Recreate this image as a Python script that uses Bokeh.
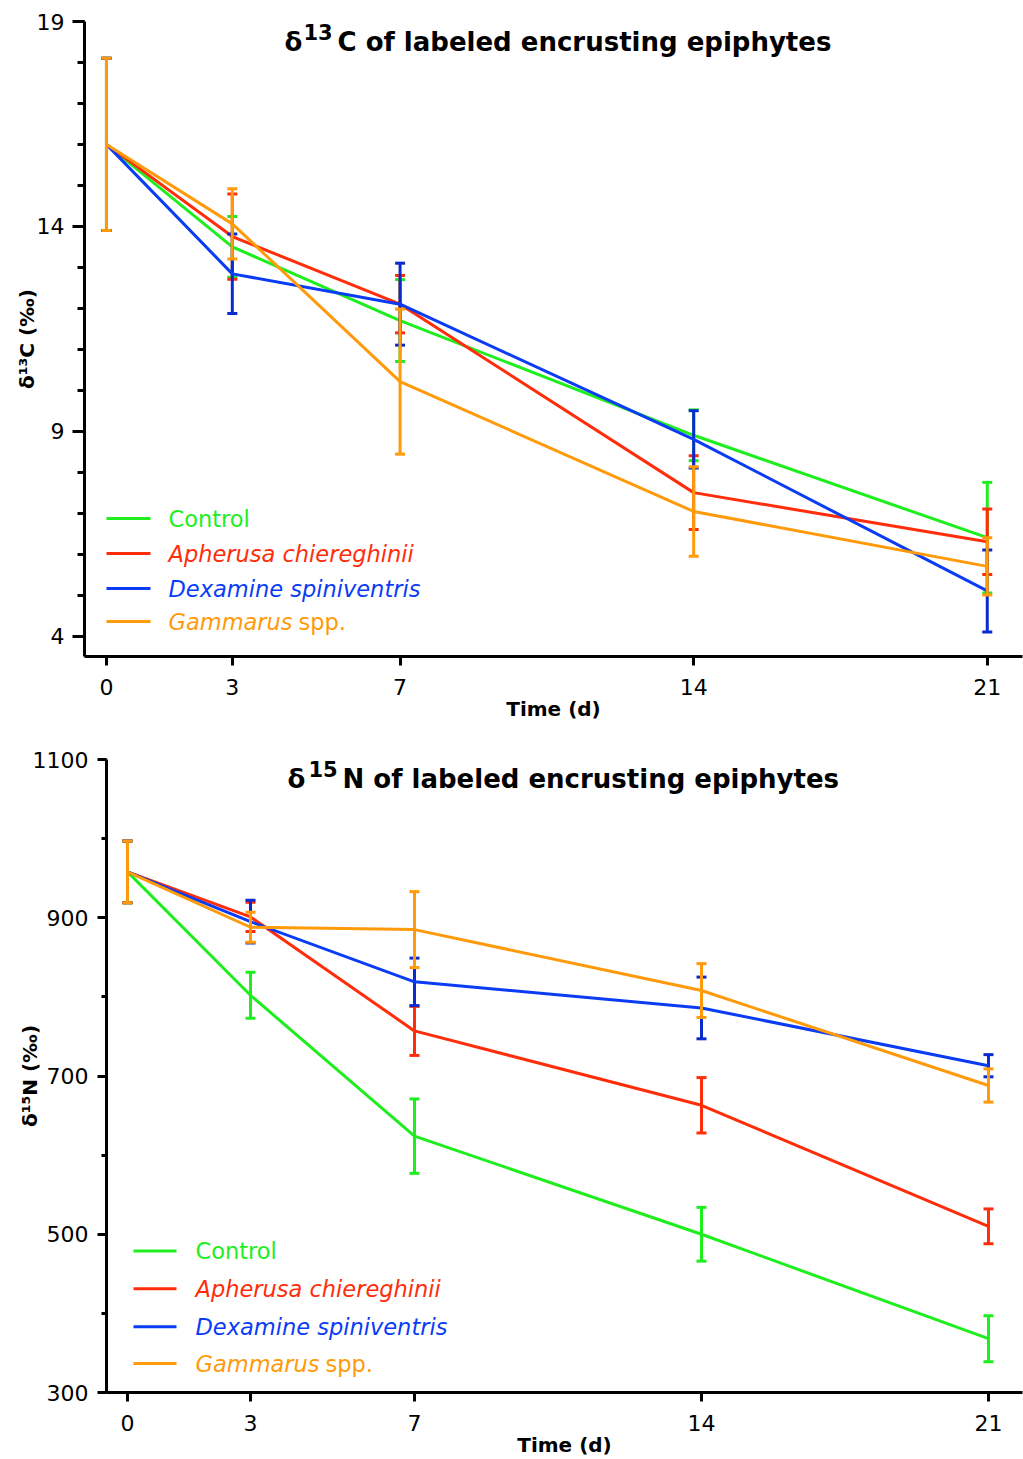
from bokeh.plotting import figure
from bokeh.models import Range1d, FixedTicker
from bokeh.layouts import column
from bokeh.core.properties import value
from bokeh.embed import file_html
from bokeh.resources import INLINE

# ---------------- data ----------------
times = [0, 3, 7, 14, 21]
series_names = ["Control", "Apherusa chiereghinii", "Dexamine spiniventris", "Gammarus"]

c13_control = [16.0, 13.5, 11.7, 8.9, 6.4]
c13_control_sd = [2.1, 0.74, 1.0, 0.62, 1.35]
c13_apherusa = [16.0, 13.75, 12.1, 7.5, 6.3]
c13_apherusa_sd = [2.1, 1.04, 0.7, 0.9, 0.8]
c13_dexamine = [16.0, 12.84, 12.1, 8.8, 5.1]
c13_dexamine_sd = [2.1, 0.97, 1.0, 0.7, 1.0]
c13_gammarus = [16.0, 14.06, 10.21, 7.04, 5.7]
c13_gammarus_sd = [2.1, 0.86, 1.77, 1.09, 0.7]

n15_control = [958, 802, 624, 500, 368]
n15_control_sd = [39, 29, 47, 34, 29]
n15_apherusa = [958, 901, 757, 663, 510]
n15_apherusa_sd = [39, 18.5, 31, 35, 22]
n15_dexamine = [958, 895, 819, 786, 713]
n15_dexamine_sd = [39, 27, 30, 39, 14]
n15_gammarus = [958, 888, 885, 808, 688]
n15_gammarus_sd = [39, 19, 48, 34, 21]

c13_major = [4, 9, 14, 19]
c13_minor = list(range(4, 20))
n15_major = [300, 500, 700, 900, 1100]
n15_minor = list(range(300, 1101, 100))

line_colors = ["#1EEE1E", "#FF2D0A", "#0A3CF5", "#FF9A0A"]
bar_colors = ["#1EEE1E", "#FF2D0A", "#0A2CCF", "#FF9A0A"]

FONT = value("DejaVu Sans")


def fpt(p, fw, fh, dx, dy):
    """point dx px right of frame left, dy px below frame top -> data coords"""
    xr, yr = p.x_range, p.y_range
    x = xr.start + dx * (xr.end - xr.start) / fw
    y = yr.end - dy * (yr.end - yr.start) / fh
    return x, y


def style_axes(p, ymaj, ymin, ytick_out, yminor_out, ylab_std, xlabel, ylabel, ylab_standoff, xlab_standoff):
    p.xaxis.ticker = FixedTicker(ticks=times)
    p.yaxis.ticker = FixedTicker(ticks=ymaj, minor_ticks=ymin)
    for ax in (p.xaxis[0], p.yaxis[0]):
        ax.axis_line_width = 3
        ax.axis_line_color = "black"
        ax.major_tick_line_width = 3
        ax.minor_tick_line_width = 3
        ax.major_tick_in = 0
        ax.minor_tick_in = 0
        ax.major_label_text_font = "DejaVu Sans"
        ax.major_label_text_font_size = "22px"
        ax.major_label_text_color = "black"
        ax.axis_label_text_font = "DejaVu Sans"
        ax.axis_label_text_font_size = "20px"
        ax.axis_label_text_font_style = "bold"
        ax.axis_label_text_color = "black"
    p.xaxis.minor_tick_line_color = None
    p.xaxis.major_tick_out = 9
    p.xaxis.major_label_standoff = 13
    p.xaxis.axis_label = xlabel
    p.xaxis.axis_label_standoff = xlab_standoff
    p.yaxis.major_tick_out = ytick_out
    p.yaxis.minor_tick_out = yminor_out
    p.yaxis.major_label_standoff = ylab_std
    p.yaxis.axis_label = ylabel
    p.yaxis.axis_label_standoff = ylab_standoff
    p.xgrid.grid_line_color = None
    p.ygrid.grid_line_color = None
    p.outline_line_color = None
    p.frame_align = False


def draw_series(p, vals, sds):
    for v, s, lc, bc in zip(vals, sds, line_colors, bar_colors):
        lo = [a - b for a, b in zip(v, s)]
        hi = [a + b for a, b in zip(v, s)]
        p.segment(x0=times, y0=lo, x1=times, y1=hi, line_color=bc, line_width=3)
        p.scatter(x=times, y=hi, marker="dash", size=10, line_color=bc, line_width=3)
        p.scatter(x=times, y=lo, marker="dash", size=10, line_color=bc, line_width=3)
        p.line(x=times, y=v, line_color=lc, line_width=3)


def draw_legend(p, fw, fh, lx0, lx1, tx, ys):
    for i, (name, col) in enumerate(zip(series_names, line_colors)):
        x0, y = fpt(p, fw, fh, lx0, ys[i])
        x1, _ = fpt(p, fw, fh, lx1, ys[i])
        xt, _ = fpt(p, fw, fh, tx, ys[i])
        p.segment(x0=[x0], y0=[y], x1=[x1], y1=[y], line_color=col, line_width=3)
        style = "normal" if name == "Control" else "italic"
        p.text(x=[xt], y=[y], text=[name], text_color=col, text_font=FONT,
               text_font_size="22.5px", text_font_style=style,
               text_baseline="middle", text_align="left")
        if name == "Gammarus":
            p.text(x=[xt], y=[y], text=["spp."], text_color=col, text_font=FONT,
                   text_font_size="22.5px", text_font_style="normal",
                   text_baseline="middle", text_align="left", x_offset=130)


def draw_title(p, fw, fh, d_dx, sup_dx, rest_dx, base_dy, sup_dy, sup, rest):
    for txt, dx, dy, size in (("δ", d_dx, base_dy, "26px"), (sup, sup_dx, sup_dy, "21px"),
                              (rest, rest_dx, base_dy, "26px")):
        x, y = fpt(p, fw, fh, dx, dy)
        p.text(x=[x], y=[y], text=[txt], text_color="black", text_font=FONT,
               text_font_size=size, text_font_style="bold",
               text_baseline="alphabetic", text_align="left")


# ---------------- top chart ----------------
FW1, FH1 = 938, 635
p1 = figure(width=1023, height=733, x_range=Range1d(-0.524, 21.84), y_range=Range1d(3.5, 19),
            output_backend="svg", toolbar_location=None,
            min_border_left=84, min_border_right=1, min_border_top=21, min_border_bottom=77)
style_axes(p1, c13_major, c13_minor, 12, 7, 8, "Time (d)", "δ¹³C (‰)", -5, -1)
draw_series(p1, [c13_control, c13_apherusa, c13_dexamine, c13_gammarus],
            [c13_control_sd, c13_apherusa_sd, c13_dexamine_sd, c13_gammarus_sd])
draw_legend(p1, FW1, FH1, 22, 66, 84, [497, 532, 567, 600])
draw_title(p1, FW1, FH1, 200, 219, 253, 20, 10, "13", "C of labeled encrusting epiphytes")

# ---------------- bottom chart ----------------
FW2, FH2 = 916, 635
p2 = figure(width=1023, height=726, x_range=Range1d(-0.512, 21.83), y_range=Range1d(300, 1100),
            output_backend="svg", toolbar_location=None,
            min_border_left=106, min_border_right=1, min_border_top=26, min_border_bottom=65)
style_axes(p2, n15_major, n15_minor, 9, 5, 9, "Time (d)", "δ¹⁵N (‰)", -12, -1)
draw_series(p2, [n15_control, n15_apherusa, n15_dexamine, n15_gammarus],
            [n15_control_sd, n15_apherusa_sd, n15_dexamine_sd, n15_gammarus_sd])
draw_legend(p2, FW2, FH2, 27, 70, 89, [493, 531, 569, 606])
draw_title(p2, FW2, FH2, 181, 202, 236, 20, 10, "15", "N of labeled encrusting epiphytes")

layout = column(p1, p2, spacing=0)
open("out.html", "w").write(file_html(layout, INLINE))
